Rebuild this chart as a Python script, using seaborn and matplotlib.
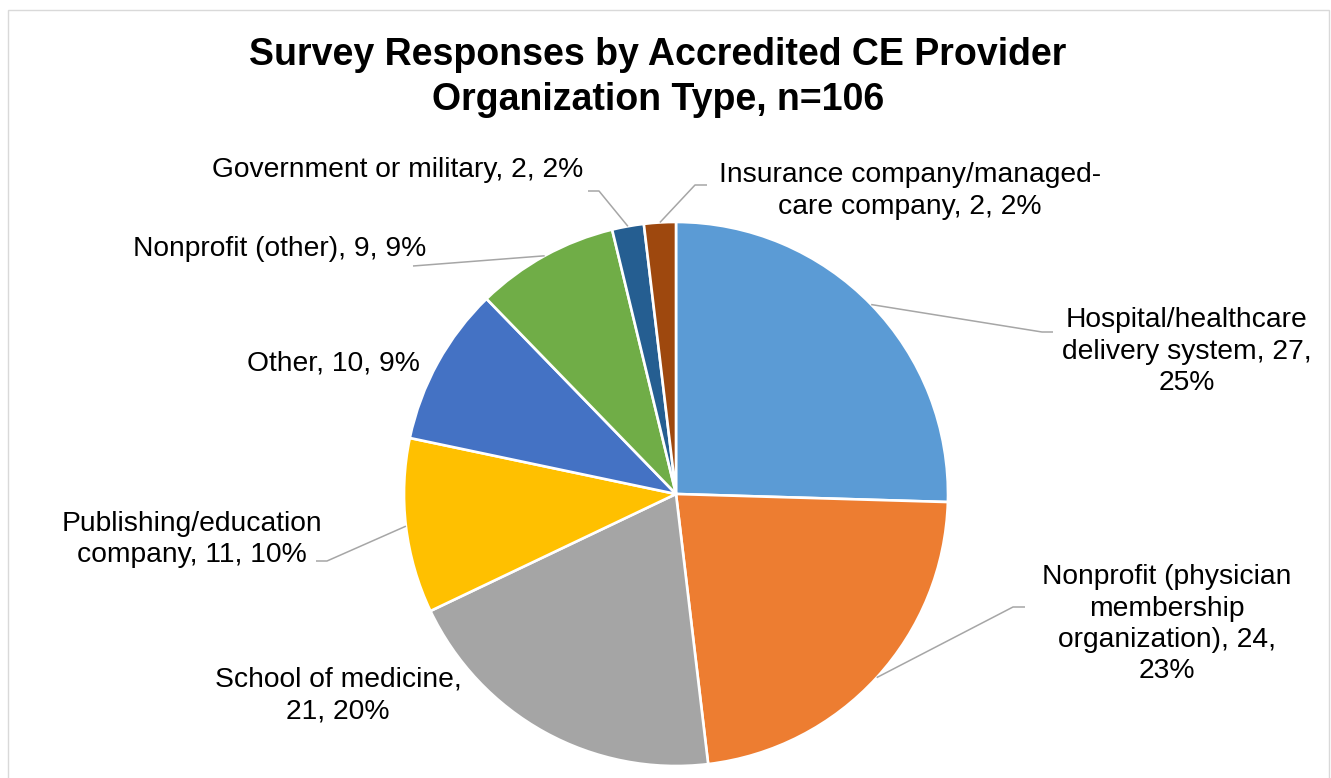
import matplotlib
matplotlib.use("Agg")
import numpy as np
import matplotlib.pyplot as plt
import seaborn as sns
from matplotlib.patches import Rectangle

# ---- data ----
categories = [
    "Hospital/healthcare delivery system",
    "Nonprofit (physician membership organization)",
    "School of medicine",
    "Publishing/education company",
    "Other",
    "Nonprofit (other)",
    "Government or military",
    "Insurance company/managed-care company",
]
counts = [27, 24, 21, 11, 10, 9, 2, 2]
percents = [25, 23, 20, 10, 9, 9, 2, 2]

# label layouts with line breaks ({n} = count, {p} = percent)
label_formats = [
    "Hospital/healthcare\ndelivery system, {n},\n{p}%",
    "Nonprofit (physician\nmembership\norganization), {n},\n{p}%",
    "School of medicine,\n{n}, {p}%",
    "Publishing/education\ncompany, {n}, {p}%",
    "Other, {n}, {p}%",
    "Nonprofit (other), {n}, {p}%",
    "Government or military, {n}, {p}%",
    "Insurance company/managed-\ncare company, {n}, {p}%",
]

title = "Survey Responses by Accredited CE Provider\nOrganization Type, n=106"

# Office-style palette
colors = ["#5B9BD5", "#ED7D31", "#A5A5A5", "#FFC000",
          "#4472C4", "#70AD47", "#255E91", "#9E480E"]

# ---- layout (pixel coordinates, y measured from the top) ----
W, H = 1331, 778
pie_center = (676, 494)
pie_radius = 272
label_size = 20.3
label_step = 31.5
title_size = 27
title_step = 45

# (x center, first-line baseline y)
label_pos = [
    (1187, 327),
    (1167, 584),
    (338, 687),
    (192, 531),
    (333, 370),
    (280, 256),
    (398, 177),
    (910, 182),
]
# leader line points on the label side (the slice end is computed)
leaders = [
    [(1053, 332), (1042, 332)],
    [(1025, 607), (1013, 607)],
    None,
    [(316, 561), (327, 561)],
    None,
    [(413, 266)],
    [(588, 191), (599, 191)],
    [(707, 185), (695, 185)],
]

sns.set_style("white")
plt.rcParams["font.family"] = ["Liberation Sans", "DejaVu Sans"]

fig = plt.figure(figsize=(W / 100, H / 100), dpi=100)
ax = fig.add_axes([0, 0, 1, 1])


def py(y):
    return H - y


def stacked_text(x, y_first, text, step, **kw):
    for k, line in enumerate(text.split("\n")):
        ax.text(x, py(y_first + k * step), line, ha="center", va="baseline", **kw)


wedges, _ = ax.pie(
    counts,
    colors=colors,
    startangle=90,
    counterclock=False,
    center=(pie_center[0], py(pie_center[1])),
    radius=pie_radius,
    wedgeprops=dict(edgecolor="white", linewidth=1.9),
)
ax.set_xlim(0, W)
ax.set_ylim(0, H)
ax.set_aspect("equal")
ax.axis("off")

# chart border
ax.add_patch(Rectangle((8, py(800)), 1329 - 8, 800 - 10, fill=False,
                       edgecolor="#D9D9D9", linewidth=1.0, zorder=0))

stacked_text(658, 65, title, title_step, fontsize=title_size,
             fontweight="bold", color="black")

for i, w in enumerate(wedges):
    txt = label_formats[i].format(n=counts[i], p=percents[i])
    x, yb = label_pos[i]
    stacked_text(x, yb, txt, label_step, fontsize=label_size, color="black")
    if leaders[i] is not None:
        mid = np.deg2rad((w.theta1 + w.theta2) / 2)
        cx, cy = w.center
        ex = cx + w.r * np.cos(mid)
        ey = cy + w.r * np.sin(mid)
        xs = [p[0] for p in leaders[i]] + [ex]
        ys = [py(p[1]) for p in leaders[i]] + [ey]
        ax.plot(xs, ys, color="#A6A6A6", linewidth=1.1, solid_capstyle="butt")

fig.savefig("out.png", dpi=100, facecolor="white")
